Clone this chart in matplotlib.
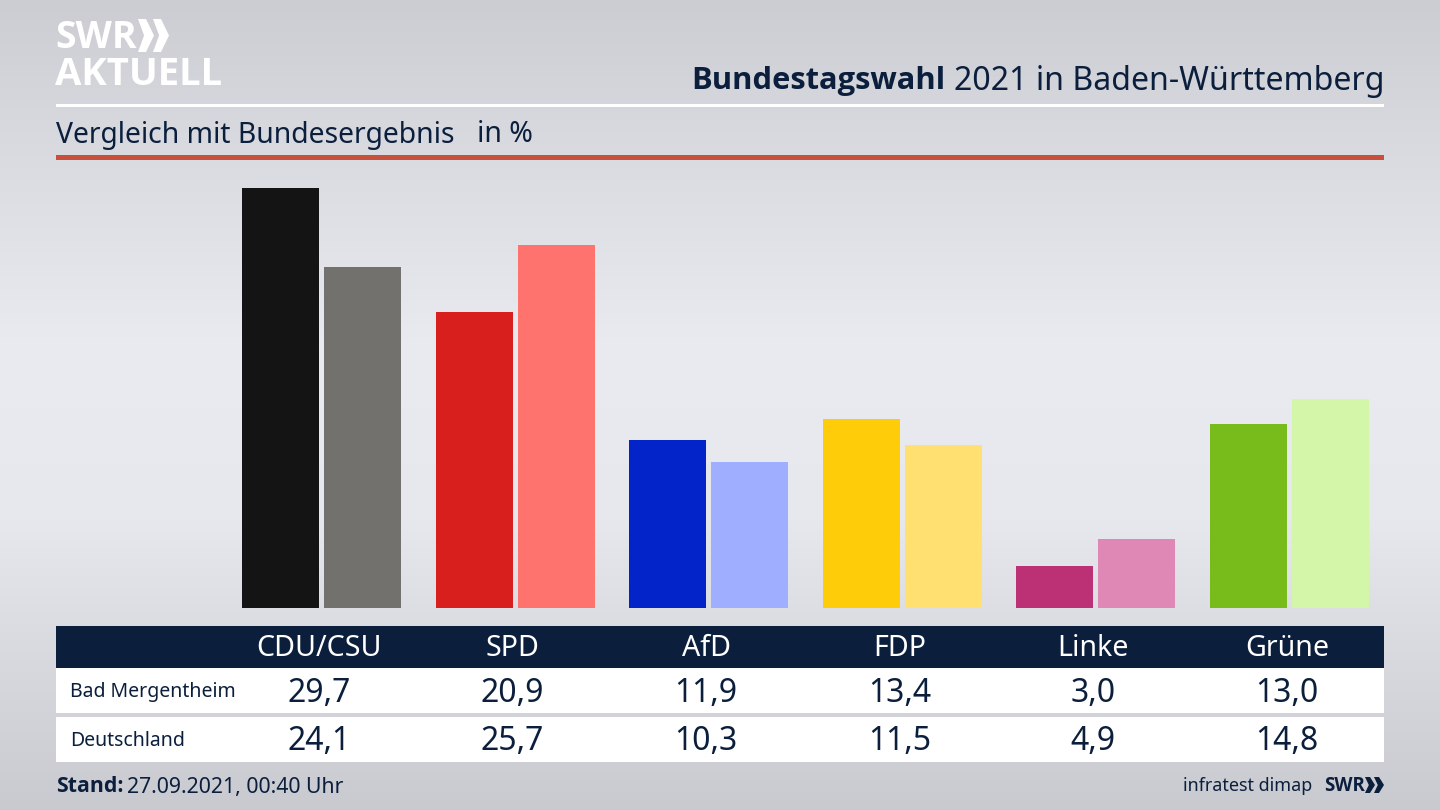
import matplotlib
matplotlib.use("Agg")
import matplotlib.pyplot as plt
import matplotlib.patches as mpatches
import numpy as np

parties = ["CDU/CSU", "SPD", "AfD", "FDP", "Linke", "Grüne"]
bad_mergentheim = [29.7, 20.9, 11.9, 13.4, 3.0, 13.0]
deutschland = [24.1, 25.7, 10.3, 11.5, 4.9, 14.8]
row_names = ["Bad Mergentheim", "Deutschland"]

colors_local = ["#141414", "#D81F1D", "#0224C8", "#FFCC0A", "#BC3076", "#78BC1C"]
colors_federal = ["#72716E", "#FF736E", "#A0AEFF", "#FFE070", "#DF88B6", "#D3F6A8"]

NAVY = "#0B1F3D"
W, H = 1440, 810

plt.rcParams['font.family'] = ['Noto Sans', 'DejaVu Sans']

fig = plt.figure(figsize=(14.4, 8.1), dpi=100)

# background and everything placed in pixels
ax = fig.add_axes([0, 0, 1, 1])
ax.set_xlim(0, W)
ax.set_ylim(H, 0)
ax.axis("off")

grad_y = np.array([0, 120, 350, 520, 650, 810])
grad_v = np.array([203, 214, 233, 230, 216, 200])
rows = np.arange(H)
shade = np.interp(rows, grad_y, grad_v)
bg = np.stack([shade, shade + 2, shade + 8], axis=1)[:, None, :] / 255
ax.imshow(np.clip(bg, 0, 1), extent=[0, W, H, 0], aspect="auto", zorder=0)


def chevrons(xs, top, bottom, w, color):
    # the two arrows next to the SWR logo
    mid = (top + bottom) / 2
    for x0 in xs:
        pts = [(x0, top), (x0 + w * 0.5, top), (x0 + w, mid), (x0 + w * 0.5, bottom), (x0, bottom), (x0 + w * 0.38, mid)]
        ax.add_patch(mpatches.Polygon(pts, closed=True, color=color, lw=0, zorder=3))


# logo
ax.text(55, 38, "SWR", color="white", fontsize=27, fontweight="bold", va="center", ha="left", family="Open Sans")
chevrons((138, 153), 19, 52, 16, "white")
ax.text(55, 75, "AKTUELL", color="white", fontsize=27.5, fontweight="bold", va="center", ha="left", family="Open Sans")

# header
ax.text(1384, 81, "2021 in Baden-Württemberg", color=NAVY, fontsize=23.1, va="center", ha="right")
ax.text(945, 81, "Bundestagswahl", color=NAVY, fontsize=22.2, fontweight="bold", va="center", ha="right", family="Open Sans")
ax.add_patch(mpatches.Rectangle((56, 104), 1327.5, 3, color="white", lw=0, zorder=2))
ax.text(56, 135, "Vergleich mit Bundesergebnis", color=NAVY, fontsize=20.4, va="center", ha="left")
ax.text(477, 135, "in %", color=NAVY, fontsize=20.5, va="center", ha="left")
ax.add_patch(mpatches.Rectangle((56, 155), 1327.5, 5, color="#C94F3D", lw=0, zorder=2))

# bars
ax_bars = fig.add_axes([0, (H - 608) / H, 1, (608 - 188) / H])
ax_bars.patch.set_alpha(0)
ax_bars.set_xlim(0, W)
ax_bars.set_ylim(0, 29.7)
ax_bars.axis("off")
centers = 319 + 193.6 * np.arange(len(parties))
ax_bars.bar(centers - 38.5, bad_mergentheim, width=77, color=colors_local)
ax_bars.bar(centers + 43.5, deutschland, width=77, color=colors_federal)

# table
ax.add_patch(mpatches.Rectangle((56, 626), 1327.5, 42, color=NAVY, lw=0, zorder=2))
ax.add_patch(mpatches.Rectangle((56, 668), 1327.5, 45, color="white", lw=0, zorder=2))
ax.add_patch(mpatches.Rectangle((56, 717), 1327.5, 45, color="white", lw=0, zorder=2))
for c, party, a, b in zip(centers, parties, bad_mergentheim, deutschland):
    ax.text(c, 649, party, color="white", fontsize=20.6, va="center", ha="center", zorder=3)
    ax.text(c, 693, f"{a:.1f}".replace(".", ","), color=NAVY, fontsize=23, va="center", ha="center", zorder=3)
    ax.text(c, 742, f"{b:.1f}".replace(".", ","), color=NAVY, fontsize=23, va="center", ha="center", zorder=3)
ax.text(70, 692, row_names[0], color=NAVY, fontsize=14, va="center", ha="left", zorder=3)
ax.text(70, 741, row_names[1], color=NAVY, fontsize=14, va="center", ha="left", zorder=3)

# footer
ax.text(56, 787, "Stand:", color=NAVY, fontsize=15.3, fontweight="bold", va="center", ha="left", family="Open Sans")
ax.text(127, 787, "27.09.2021, 00:40 Uhr", color=NAVY, fontsize=15.3, va="center", ha="left")
ax.text(1312, 786, "infratest dimap", color=NAVY, fontsize=12.9, va="center", ha="right")
ax.text(1324, 786, "SWR", color=NAVY, fontsize=13.5, fontweight="bold", va="center", ha="left", family="Open Sans")
chevrons((1365, 1374), 777, 793, 10, NAVY)

fig.savefig("out.png", dpi=100)
